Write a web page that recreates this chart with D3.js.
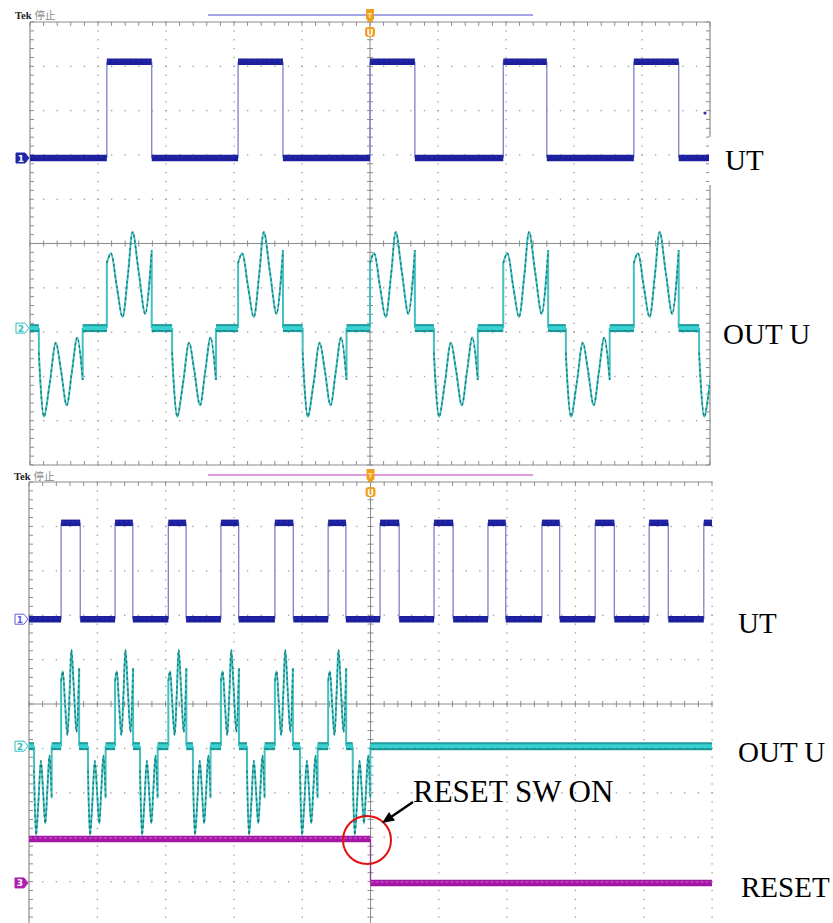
<!DOCTYPE html>
<html><head><meta charset="utf-8">
<script src="https://cdn.jsdelivr.net/npm/d3@7"></script>
<style>body{margin:0;background:#fff}svg{display:block}</style>
</head><body><svg id="c" width="833" height="923"></svg>
<script>
// ---------- data (time in ms, voltage in screen divisions) ----------
const topTimeMax = 20;     // 2 ms/div
const botTimeMax = 50;     // 5 ms/div
const topRises = [2.26, 6.12, 10.00, 13.92, 17.76];
const topFalls = [3.58, 7.44, 11.32, 15.20, 19.08];
const topPosLobes = [2.26, 6.12, 10.00, 13.92, 17.76];
const topNegLobes = [0.26, 4.18, 8.02, 11.88, 15.76, 19.68];
const botRises = [2.35, 6.30, 10.20, 14.05, 18.00, 21.90, 25.70, 29.65, 33.60, 37.55, 41.45, 45.40, 49.40];
const botFalls = [3.75, 7.60, 11.50, 15.35, 19.35, 23.20, 27.10, 31.05, 34.90, 38.85, 42.85, 46.80];
const botPosLobes = [2.35, 6.30, 10.20, 14.05, 18.00, 21.90];
const botNegLobes = [0.37, 4.32, 8.13, 12.00, 15.96, 19.84, 23.70];
const resetTime = 25.0;
const posLobeT = [0, 0.12, 0.29, 0.46, 0.62, 0.76, 0.94, 1.13, 1.32];
const posLobeV = [1.47, 1.69, 0.95, 0.25, 1.20, 2.17, 1.25, 0.32, 1.76];
const negLobeT = [0, 0.15, 0.32, 0.50, 0.65, 0.82, 0.97, 1.13, 1.29];
const negLobeV = [-0.55, -2.00, -1.25, -0.33, -0.95, -1.74, -1.00, -0.21, -1.17];
const topUTLevels = [1.93, 4.10];   // low, high
const topOutBase = -1.91;
const botUTLevels = [1.91, 4.08];
const botOutBase = -0.95;
const resetLevels = [-3.04, -4.03]; // before, after
const labelsTop = ["UT", "OUT U"];
const labelsBot = ["UT", "OUT U", "RESET"];
const annotation = "RESET SW ON";

// ---------- colors ----------
const C = {grid:'#9a9a9a', gridLine:'#8c8c8c', ut:'#1c1f9c', utEdge:'#7c80c8',
  outDark:'#1c9c9c', outLight:'#38d0d0', lobe:'#45c0c0', lobeDark:'#147a7a',
  rst:'#a416a4', rstLight:'#c448c4', orange:'#f0a020'};

const svg = d3.select('#c');

const panels = [
  {x0:30, x1:710, yt:22, yb:465, tmax:topTimeMax, rises:topRises, falls:topFalls, ut:topUTLevels,
   outBase:topOutBase, pos:topPosLobes, neg:topNegLobes, reset:null, rightDotted:false, bottomBorder:true,
   id:'p1', barColor:'#8686de', barY:15, tekY:19, filled1:true},
  {x0:29, x1:712, yt:482, yb:926, tmax:botTimeMax, rises:botRises, falls:botFalls, ut:botUTLevels,
   outBase:botOutBase, pos:botPosLobes, neg:botNegLobes, reset:resetTime, rightDotted:true, bottomBorder:false,
   id:'p2', barColor:'#d67ad6', barY:475, tekY:480, filled1:false}
];

function ln(g, x1, y1, x2, y2, stroke, w) {
  return g.append('line').attr('x1',x1).attr('y1',y1).attr('x2',x2).attr('y2',y2)
    .attr('stroke',stroke).attr('stroke-width',w||1);
}

panels.forEach(p => {
  const g = svg.append('g');
  const x = d3.scaleLinear().domain([0, p.tmax]).range([p.x0, p.x1]);
  const xd = d3.scaleLinear().domain([0, 10]).range([p.x0, p.x1]);
  const y = d3.scaleLinear().domain([-5, 5]).range([p.yb, p.yt]);
  const minor = d3.range(0, 10.001, 0.2);

  // dotted grid
  const dots = [];
  for (let i = 1; i <= 9; i++) {
    if (i === 5) continue;
    minor.forEach(m => { dots.push([xd(i), y(m - 5)]); dots.push([xd(m), y(i - 5)]); });
  }
  if (p.rightDotted) minor.forEach(m => dots.push([xd(10), y(m - 5)]));
  g.selectAll(null).data(dots).join('rect')
    .attr('x', d => d[0] - 0.6).attr('y', d => d[1] - 0.6).attr('width', 1.3).attr('height', 1.3)
    .attr('fill', C.grid);

  // center cross with ticks
  ln(g, xd(5), p.yt, xd(5), Math.min(p.yb, 923), C.gridLine, 1);
  ln(g, p.x0, y(0), p.x1, y(0), C.gridLine, 1);
  minor.forEach(m => {
    ln(g, xd(m), y(0) - 3, xd(m), y(0) + 3, C.gridLine, 1);
    ln(g, xd(5) - 3, y(m - 5), xd(5) + 3, y(m - 5), C.gridLine, 1);
  });
  // borders with ticks
  ln(g, p.x0, p.yt, p.x1, p.yt, C.gridLine, 1.2);
  ln(g, p.x0, p.yt, p.x0, p.yb, C.gridLine, 1.2);
  minor.forEach(m => {
    ln(g, xd(m), p.yt, xd(m), p.yt + 4, C.gridLine, 1);
    ln(g, p.x0, y(m - 5), p.x0 + 4, y(m - 5), C.gridLine, 1);
  });
  if (!p.rightDotted) {
    ln(g, p.x1, p.yt, p.x1, p.yb, C.gridLine, 1.2);
    minor.forEach(m => ln(g, p.x1 - 4, y(m - 5), p.x1, y(m - 5), C.gridLine, 1));
  }
  if (p.bottomBorder) {
    ln(g, p.x0, p.yb, p.x1, p.yb, C.gridLine, 1.2);
    minor.forEach(m => ln(g, xd(m), p.yb - 4, xd(m), p.yb, C.gridLine, 1));
  }

  // clip
  svg.append('clipPath').attr('id', p.id).append('rect')
    .attr('x', p.x0).attr('y', p.yt).attr('width', p.x1 - p.x0).attr('height', p.yb - p.yt);
  const tg = g.append('g').attr('clip-path', `url(#${p.id})`);

  // ---- UT square wave ----
  const edges = p.rises.map(t => ({t, up:true})).concat(p.falls.map(t => ({t, up:false})))
    .sort((a, b) => a.t - b.t);
  const flats = [];
  let t0 = 0, lvl = 0;
  edges.forEach(e => { flats.push({a:t0, b:e.t, v:p.ut[lvl]}); t0 = e.t; lvl = e.up ? 1 : 0; });
  flats.push({a:t0, b:p.tmax, v:p.ut[lvl]});
  edges.forEach(e => ln(tg, x(e.t), y(p.ut[0]), x(e.t), y(p.ut[1]), C.utEdge, 1.3));
  flats.forEach(f => {
    ln(tg, x(f.a), y(f.v), x(f.b), y(f.v), C.ut, 6.5);
    ln(tg, x(f.a), y(f.v) - 1, x(f.b), y(f.v) - 1, '#2a2eb4', 1.2).attr('stroke-dasharray', '3,2');
  });

  // ---- OUT U ----
  const limit = p.reset == null ? p.tmax : p.reset;
  const lobes = p.pos.map(t => ({t, T:posLobeT, V:posLobeV}))
    .concat(p.neg.map(t => ({t, T:negLobeT, V:negLobeV})))
    .filter(l => l.t < limit).sort((a, b) => a.t - b.t);
  const base = p.outBase;
  const outFlats = [];
  let bt = 0;
  lobes.forEach(l => { outFlats.push([bt, l.t]); bt = l.t + l.T[l.T.length - 1]; });
  outFlats.push([bt, p.tmax]);
  const curveGen = d3.line().curve(d3.curveCatmullRom.alpha(0.5));
  lobes.forEach(l => {
    const pts = l.T.map((d, i) => [x(l.t + d), y(base + l.V[i])]);
    const c = curveGen(pts);
    const tEnd = l.t + l.T[l.T.length - 1];
    const path = `M${x(l.t)},${y(base)}L${c.slice(1)}L${x(tEnd)},${y(base)}`;
    tg.append('path').attr('d', path).attr('fill', 'none').attr('stroke', C.lobe).attr('stroke-width', 2);
    tg.append('path').attr('d', `M${c.slice(1)}`).attr('fill', 'none').attr('stroke', C.lobeDark)
      .attr('stroke-width', 1.4).attr('stroke-dasharray', '2.5,3');
  });
  outFlats.forEach(f => {
    if (f[1] <= f[0]) return;
    ln(tg, x(f[0]), y(base), x(f[1]), y(base), C.outDark, 8);
    ln(tg, x(f[0]), y(base), x(f[1]), y(base), C.outLight, 4);
    ln(tg, x(f[0]), y(base) + 2.5, x(f[1]), y(base) + 2.5, '#178888', 1).attr('stroke-dasharray', '4,3');
  });

  // ---- RESET ----
  if (p.reset != null) {
    ln(tg, x(p.reset), y(resetLevels[0]), x(p.reset), y(resetLevels[1]), '#8a3a8a', 1.3);
    ln(tg, x(0), y(resetLevels[0]), x(p.reset), y(resetLevels[0]), C.rst, 6.5);
    ln(tg, x(0), y(resetLevels[0]) - 1, x(p.reset), y(resetLevels[0]) - 1, C.rstLight, 1.5).attr('stroke-dasharray', '3,2');
    ln(tg, x(p.reset), y(resetLevels[1]), x(p.tmax), y(resetLevels[1]), C.rst, 6.5);
    ln(tg, x(p.reset), y(resetLevels[1]) - 1, x(p.tmax), y(resetLevels[1]) - 1, C.rstLight, 1.5).attr('stroke-dasharray', '3,2');
  }

  // ---- channel markers ----
  function marker(yc, label, color, filled) {
    const xr = p.x0 - 1;
    const d = `M${xr - 13},${yc - 5}L${xr - 4},${yc - 5}L${xr},${yc}L${xr - 4},${yc + 5}L${xr - 13},${yc + 5}Z`;
    g.append('path').attr('d', d).attr('fill', filled ? color : '#fff').attr('stroke', color).attr('stroke-width', 1);
    g.append('text').attr('x', xr - 8).attr('y', yc + 3.5).attr('text-anchor', 'middle')
      .attr('font-family', 'DejaVu Sans').attr('font-size', 9).attr('font-weight', 'bold')
      .attr('fill', filled ? '#fff' : color).text(label);
  }
  marker(y(p.ut[0]), '1', p.filled1 ? '#2226a8' : '#5a5ee0', p.filled1);
  marker(y(base), '2', '#2cc0c0', false);
  if (p.reset != null) marker(y(resetLevels[1]), '3', '#b020b0', true);

  // ---- header: Tek text, bar, trigger marker ----
  const tk = svg.append('text').attr('x', p.x0 - 15).attr('y', p.tekY).attr('font-size', 10.5);
  tk.append('tspan').attr('font-family', 'Liberation Serif').attr('font-weight', 'bold').attr('fill', '#222').text('Tek');
  tk.append('tspan').attr('dx', 3).attr('font-family', 'Noto Sans CJK SC').attr('fill', '#888').text('停止');
  ln(svg, 208, p.barY, 533, p.barY, p.barColor, 1.5);
  const tx = xd(5);
  svg.append('path').attr('d', `M${tx - 4},${p.barY - 6}L${tx + 4},${p.barY - 6}L${tx + 4},${p.barY + 4}L${tx},${p.barY + 8}L${tx - 4},${p.barY + 4}Z`)
    .attr('fill', C.orange);
  svg.append('text').attr('x', tx).attr('y', p.barY + 3).attr('text-anchor', 'middle').attr('font-family', 'DejaVu Sans')
    .attr('font-size', 7).attr('font-weight', 'bold').attr('fill', '#fde0a0').text('T');
  svg.append('rect').attr('x', tx - 5).attr('y', p.barY + 12).attr('width', 10).attr('height', 10).attr('rx', 3).attr('fill', C.orange);
  svg.append('text').attr('x', tx).attr('y', p.barY + 20.5).attr('text-anchor', 'middle').attr('font-family', 'DejaVu Sans')
    .attr('font-size', 8).attr('font-weight', 'bold').attr('fill', '#fff').text('U');
});

// small marker dot on top panel
svg.append('circle').attr('cx', 705).attr('cy', 113).attr('r', 1.6).attr('fill', '#2a2ea8');
// white box behind top UT label
svg.append('rect').attr('x', 709).attr('y', 137).attr('width', 56).attr('height', 48).attr('fill', '#fff');

// ---- labels ----
const lab = (txt, x, y, size) => svg.append('text').attr('x', x).attr('y', y)
  .attr('font-family', 'Liberation Serif').attr('font-size', size || 29).attr('fill', '#000').text(txt);
lab(labelsTop[0], 725, 170);
lab(labelsTop[1], 723, 344);
lab(labelsBot[0], 738, 633);
lab(labelsBot[1], 738, 762);
lab(labelsBot[2], 741, 897);
lab(annotation, 413, 802, 31);

// ---- annotation arrow and circle ----
svg.append('circle').attr('cx', 367).attr('cy', 840).attr('r', 24).attr('fill', 'none')
  .attr('stroke', '#e01010').attr('stroke-width', 2);
ln(svg, 413, 802, 391, 817, '#000', 2.5);
svg.append('path').attr('d', 'M382,823L389,812L395,820.5Z').attr('fill', '#000');
</script></body></html>
